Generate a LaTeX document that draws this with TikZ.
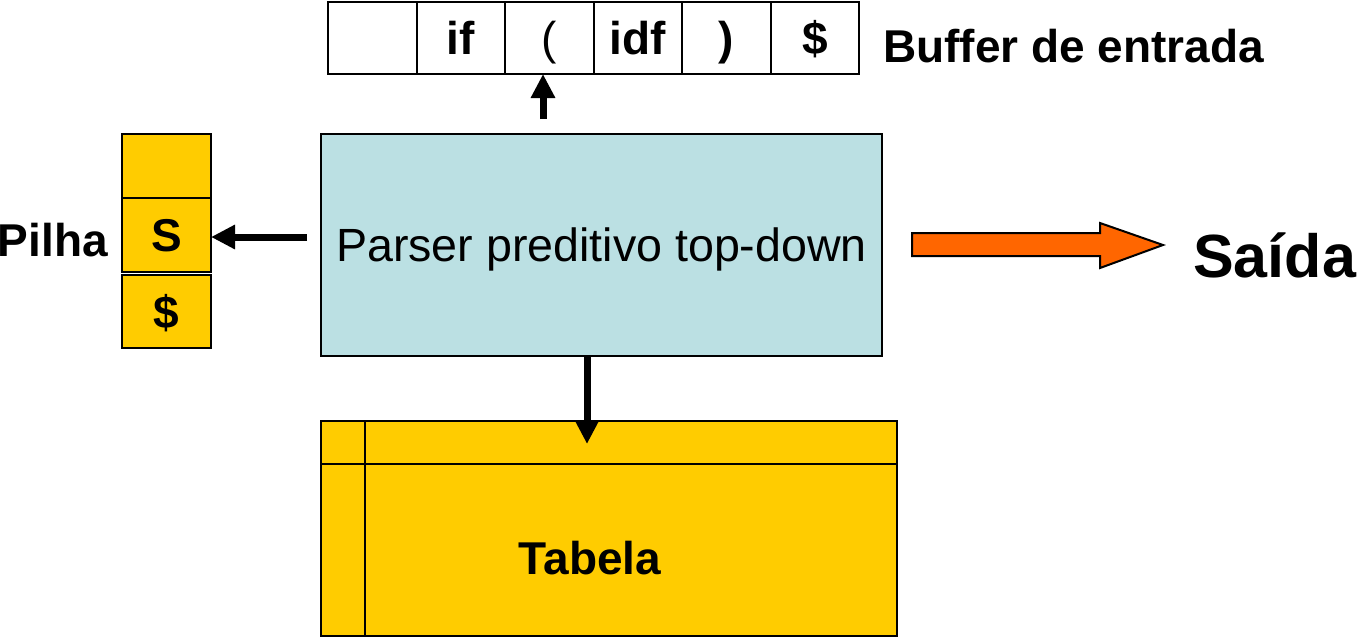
\documentclass[tikz,border=0pt]{standalone}
\usepackage{fontspec}
\setmainfont{Liberation Sans}
\usetikzlibrary{arrows.meta}
\definecolor{ylw}{HTML}{FFCC00}
\definecolor{lblue}{HTML}{BBE0E3}
\definecolor{orng}{HTML}{FF6600}
\tikzset{
  cell/.style={draw=black, line width=2pt, minimum width=88.5pt, minimum height=72pt, inner sep=0pt, outer sep=0pt,
    font=\fontsize{46}{50}\selectfont\bfseries, text height=33pt, text depth=0pt},
  stk/.style={draw=black, line width=2pt, fill=ylw, minimum width=89pt, inner sep=0pt, outer sep=0pt,
    font=\fontsize{46}{50}\selectfont\bfseries, text height=33pt, text depth=0pt},
  lbl/.style={inner sep=0pt, font=\fontsize{46}{50}\selectfont\bfseries, text height=33pt, text depth=0pt},
  fat/.style={line width=7pt, -{Triangle[length=24pt,width=23pt]}},
}
\begin{document}
\begin{tikzpicture}[x=1pt,y=-1pt]
\useasboundingbox (0,0) rectangle (1358,638);
% buffer
\node[cell] (b0) at (372.5,38) {};
\node[cell] (b1) at (461,38) {if};
\node[cell] (b2) at (549.5,38) {\mdseries(};
\node[cell] (b3) at (638,38) {idf};
\node[cell] (b4) at (726.5,38) {)};
\node[cell] (b5) at (815,38) {\$};
\node[lbl, anchor=west] (buf) at (883,46) {Buffer de entrada};
% parser
\node[draw=black, line width=2pt, fill=lblue, minimum width=561pt, minimum height=222pt, inner sep=0pt,
  font=\fontsize{46.6}{50}\selectfont, text height=33pt, text depth=0pt] (p) at (601.5,245) {Parser preditivo top-down};
% stack
\node[stk, minimum height=64pt] (s0) at (166.5,166) {};
\node[stk, minimum height=74pt] (s1) at (166.5,235) {S};
\node[stk, minimum height=73pt] (s2) at (166.5,311.5) {\$};
\node[lbl, anchor=east] (pilha) at (108,240) {Pilha};
% table
\node[draw=black, line width=2pt, fill=ylw, minimum width=576pt, minimum height=215pt, inner sep=0pt] (t) at (609,528.5) {};
\draw[line width=2pt] (t.north west) ++(45,0) coordinate (tv1) (tv1) -- (tv1 |- t.south);
\draw[line width=2pt] (t.north west) ++(0,44) coordinate (th1) (th1) -- (th1 -| t.east);
\node[lbl] (tab) at (590,558) {Tabela};
% arrows
\coordinate (upS) at (543,119);
\draw[fat] (upS) -- (upS |- b2.south);
\coordinate (lfS) at (307,237);
\draw[fat] (lfS) -- (s1.east |- lfS);
\coordinate (dnS) at (587,356);
\draw[fat] (dnS) -- (587,444);
% orange output arrow
\draw[line width=2pt, fill=orng, line join=miter] (912,233) -- (1100,233) -- (1100,223) -- (1163,245) -- (1100,268) -- (1100,256) -- (912,256) -- cycle;
\node[inner sep=0pt, anchor=west, font=\fontsize{61}{66}\selectfont\bfseries, text height=44pt, text depth=0pt] (out) at (1193,255) {Saída};
\end{tikzpicture}
\end{document}
